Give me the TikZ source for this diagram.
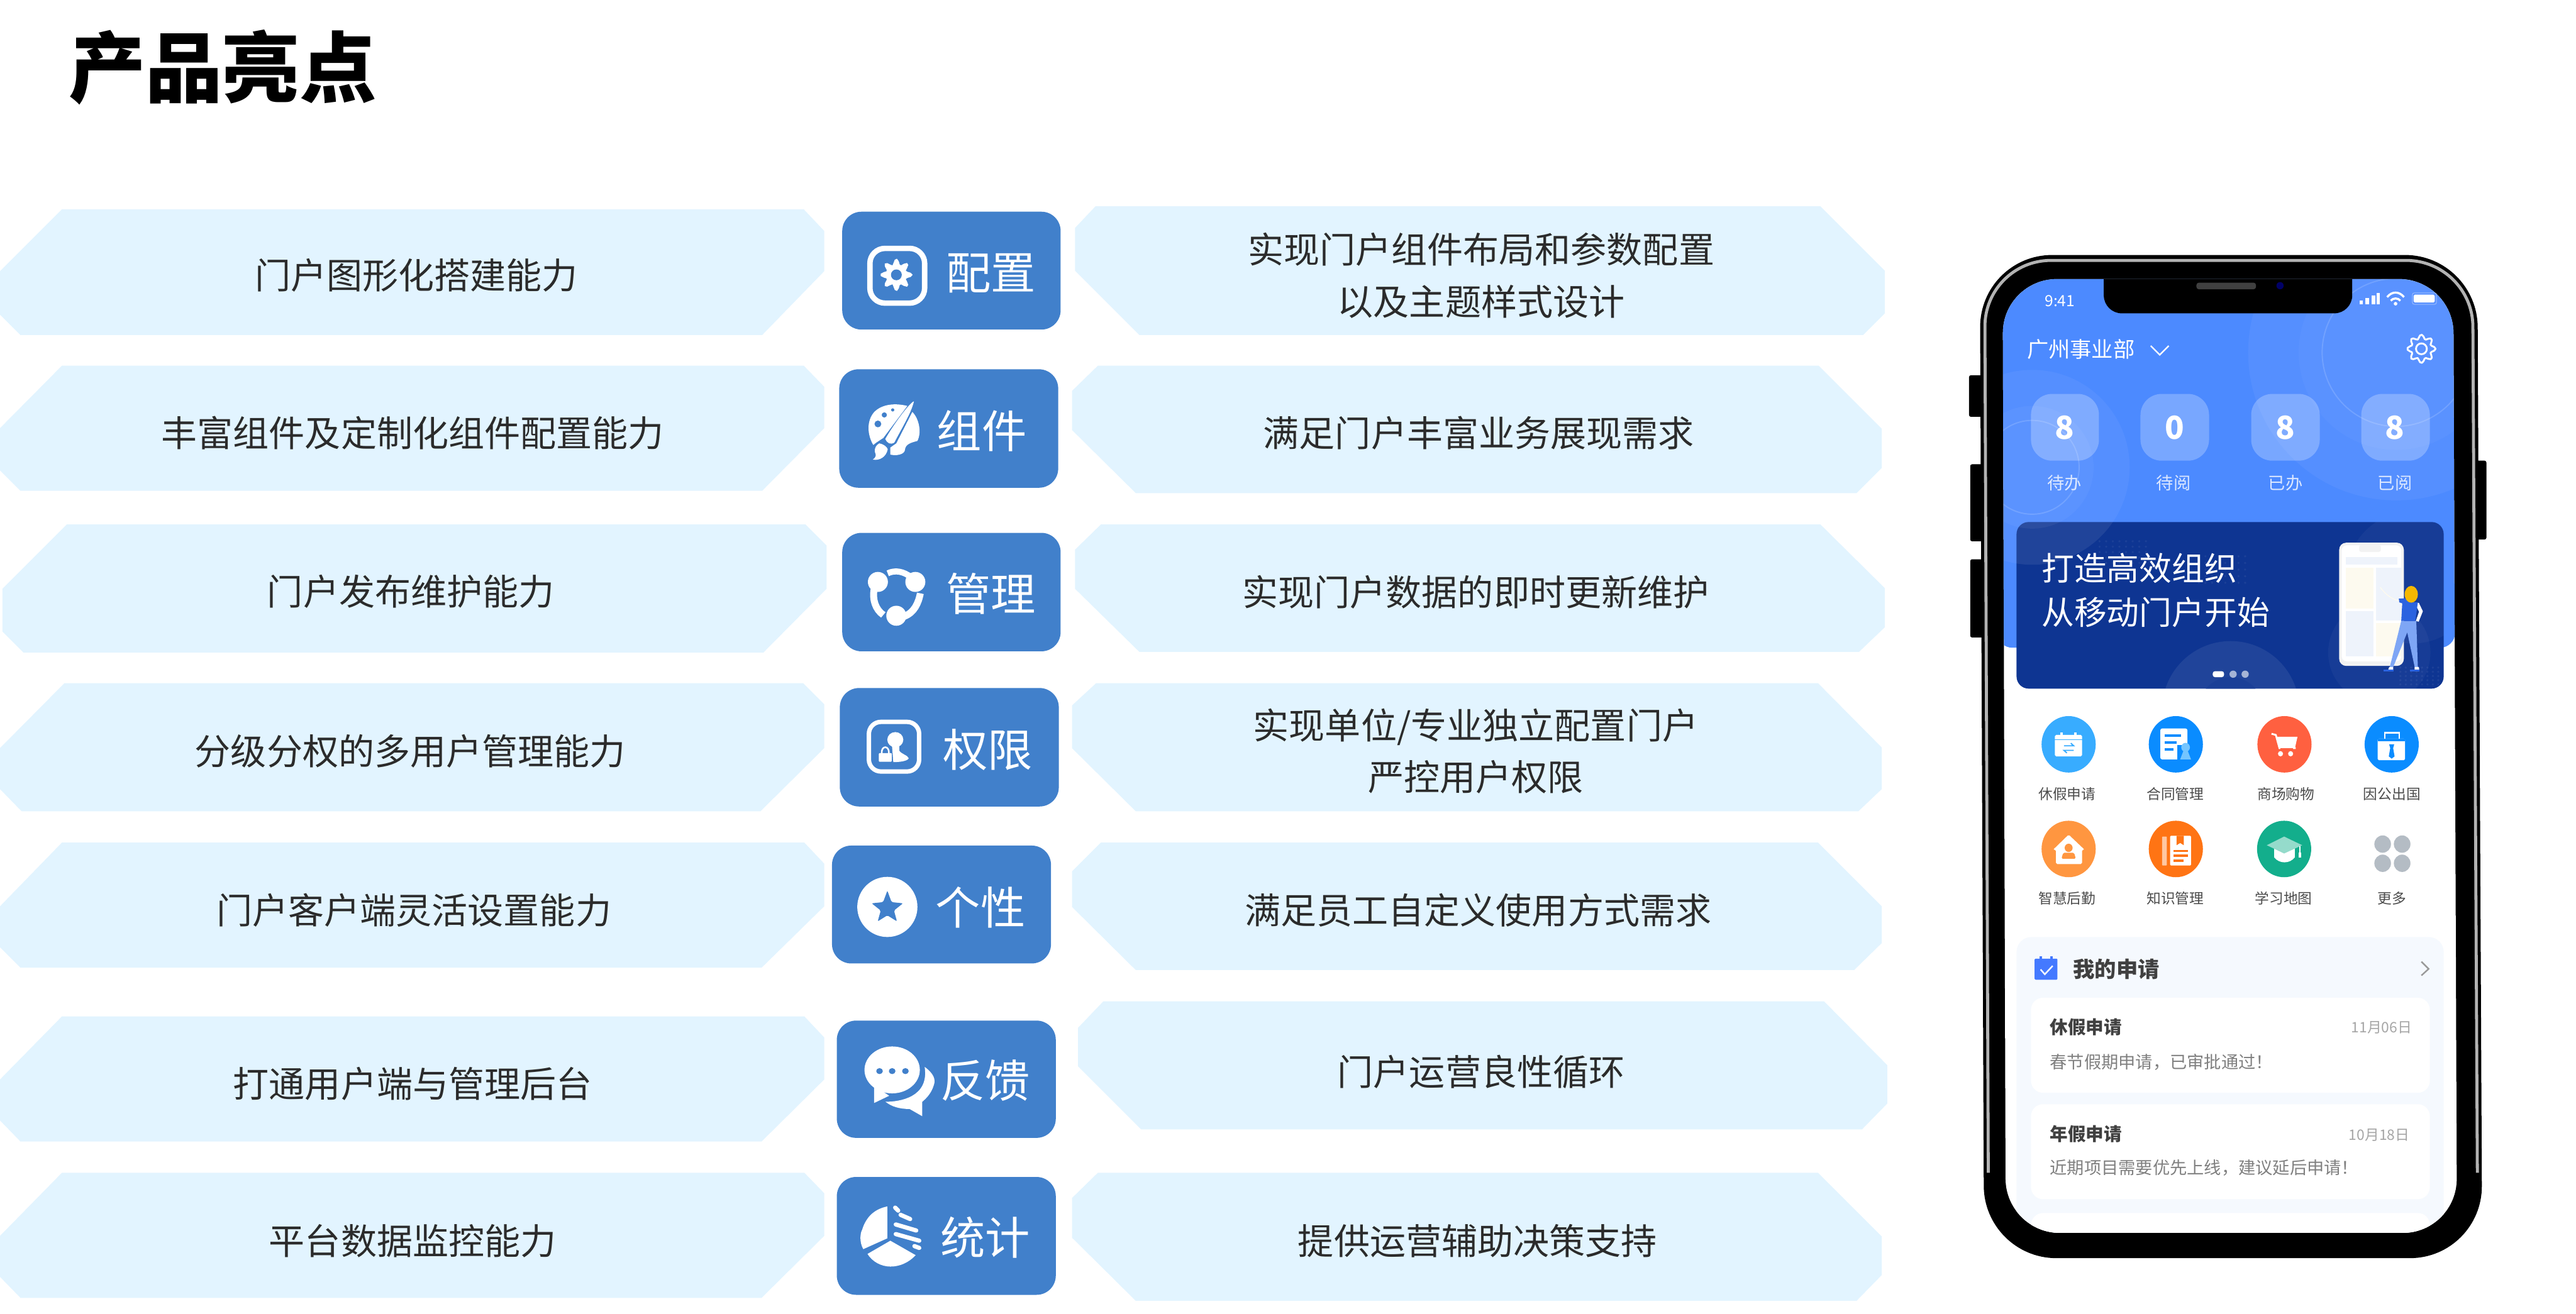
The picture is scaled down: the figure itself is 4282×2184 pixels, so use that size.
\documentclass[tikz,border=0pt]{standalone}
\usepackage{fontspec}
\setmainfont{Noto Sans CJK SC}
\definecolor{panelfill}{HTML}{E2F4FF}
\definecolor{btnblue}{HTML}{4180CB}
\definecolor{txtdark}{HTML}{2B2B2B}
\definecolor{headblue}{HTML}{4C8AFF}
\definecolor{bannerblue}{HTML}{0E3592}
\definecolor{cardbg}{HTML}{F5F9FE}
\definecolor{iconA}{HTML}{38ACFF}
\definecolor{iconB}{HTML}{0A8CFF}
\definecolor{iconC}{HTML}{FF6040}
\definecolor{iconD}{HTML}{FF9640}
\definecolor{iconE}{HTML}{FF7414}
\definecolor{iconF}{HTML}{13AE8C}
\definecolor{dotgray}{HTML}{B4BCC4}
\definecolor{softblue}{HTML}{EEF3FB}
\definecolor{softcream}{HTML}{FDFAEF}
\definecolor{hair}{HTML}{F5B800}
\definecolor{shirt}{HTML}{2B63E0}
\definecolor{jeans}{HTML}{7EA6F5}
\newcommand{\panelpoly}[8]{\fill[panelfill] #1 -- #2 -- #3 -- #4 -- #5 -- #6 -- #7 -- #8 -- cycle;}
\tikzset{
  paneltext/.style={font=\fontsize{16.97}{24.5}\selectfont,text=txtdark,inner sep=0pt,align=center,yshift=-.02cm},
  btntext/.style={font=\fontsize{21.2}{24}\selectfont,text=white,inner sep=0pt,yshift=-.02cm},
  btnshape/.style={fill=btnblue,rounded corners=.32cm},
  stat/.style={font=\bfseries\fontsize{15}{18}\selectfont,text=white,inner sep=0pt},
  statlabel/.style={font=\fontsize{8.1}{10}\selectfont,text=white,opacity=.8,inner sep=0pt},
  tile/.style={fill=white,fill opacity=.25,rounded corners=.35cm},
  appicon/.style={font=\fontsize{6.75}{8}\selectfont,text=black!70,inner sep=0pt},
  bannertext/.style={font=\fontsize{15.4}{18}\selectfont,text=white,inner sep=0pt,anchor=west},
  cardhead/.style={font=\bfseries\fontsize{8.5}{10}\selectfont,text=black!75,inner sep=0pt,anchor=west},
  carddate/.style={font=\fontsize{6.8}{8}\selectfont,text=black!35,inner sep=0pt,anchor=east},
  cardbody/.style={font=\fontsize{8.1}{10}\selectfont,text=black!50,inner sep=0pt,anchor=west},
  innercard/.style={fill=white,rounded corners=.2cm},
  zthree/.style={shift={(3240,1150)},x=.005995cm,y=-.00625cm},
}
\begin{document}
\begin{tikzpicture}[x=.01cm,y=-.01cm]
\useasboundingbox (0,0) rectangle (4282,2184);
\fill[white] (0,0) rectangle (4282,2184);
\node[inner sep=0pt,font=\bfseries\fontsize{36.4}{40}\selectfont,text=black] (title) at (370,112) {产品亮点};

% left panels
\panelpoly{(103,348)}{(1336,348)}{(1370,384)}{(1370,451)}{(1267,557)}{(34,557)}{(0,523)}{(0,451)}
\panelpoly{(103,608)}{(1336,608)}{(1370,643)}{(1370,712)}{(1267,816)}{(34,816)}{(0,782)}{(0,712)}
\panelpoly{(111,872)}{(1339,872)}{(1374,907)}{(1374,979)}{(1269,1085)}{(39,1085)}{(4,1050)}{(4,979)}
\panelpoly{(107,1136)}{(1335,1136)}{(1370,1171)}{(1370,1244)}{(1264,1349)}{(36,1349)}{(0,1312)}{(0,1244)}
\panelpoly{(103,1401)}{(1337,1401)}{(1370,1436)}{(1370,1507)}{(1266,1609)}{(34,1609)}{(0,1575)}{(0,1507)}
\panelpoly{(103,1690)}{(1337,1690)}{(1370,1725)}{(1370,1795)}{(1266,1898)}{(34,1898)}{(0,1863)}{(0,1795)}
\panelpoly{(103,1950)}{(1337,1950)}{(1370,1984)}{(1370,2055)}{(1266,2158)}{(34,2158)}{(0,2123)}{(0,2055)}
% right panels
\panelpoly{(1821,343)}{(3026,343)}{(3133,450)}{(3133,521)}{(3097,557)}{(1894,557)}{(1787,450)}{(1787,379)}
\panelpoly{(1825,608)}{(3023,608)}{(3128,713)}{(3128,778)}{(3086,820)}{(1888,820)}{(1782,715)}{(1782,650)}
\panelpoly{(1830,872)}{(3026,872)}{(3133,978)}{(3133,1043)}{(3090,1084)}{(1894,1084)}{(1787,979)}{(1787,914)}
\panelpoly{(1822,1136)}{(3022,1136)}{(3128,1243)}{(3128,1312)}{(3089,1349)}{(1888,1349)}{(1782,1244)}{(1782,1173)}
\panelpoly{(1830,1401)}{(3022,1401)}{(3128,1507)}{(3128,1568)}{(3082,1613)}{(1888,1613)}{(1782,1508)}{(1782,1449)}
\panelpoly{(1834,1665)}{(3032,1665)}{(3137,1771)}{(3137,1835)}{(3095,1878)}{(1897,1878)}{(1792,1773)}{(1792,1709)}
\panelpoly{(1825,1950)}{(3022,1950)}{(3128,2056)}{(3128,2120)}{(3086,2163)}{(1888,2163)}{(1782,2058)}{(1782,1992)}

% left texts
\node[paneltext] (l1) at (692,456) {门户图形化搭建能力};
\node[paneltext] (l2) at (686,718) {丰富组件及定制化组件配置能力};
\node[paneltext] (l3) at (683,982) {门户发布维护能力};
\node[paneltext] (l4) at (682,1247) {分级分权的多用户管理能力};
\node[paneltext] (l5) at (688,1511) {门户客户端灵活设置能力};
\node[paneltext] (l6) at (686,1800) {打通用户端与管理后台};
\node[paneltext] (l7) at (686,2061) {平台数据监控能力};
% right texts
\node[paneltext] (r1) at (2462,456) {实现门户组件布局和参数配置\\以及主题样式设计};
\node[paneltext] (r2) at (2458,718) {满足门户丰富业务展现需求};
\node[paneltext] (r3) at (2453,982) {实现门户数据的即时更新维护};
\node[paneltext] (r4) at (2453,1247) {实现单位/专业独立配置门户\\严控用户权限};
\node[paneltext] (r5) at (2457,1511) {满足员工自定义使用方式需求};
\node[paneltext] (r6) at (2462,1780) {门户运营良性循环};
\node[paneltext] (r7) at (2456,2061) {提供运营辅助决策支持};

% buttons
\fill[btnshape] (1400,352) rectangle (1763,548);
\fill[btnshape] (1395,614) rectangle (1759,811);
\fill[btnshape] (1400,886) rectangle (1763,1083);
\fill[btnshape] (1396,1144) rectangle (1760,1341);
\fill[btnshape] (1383,1406) rectangle (1747,1602);
\fill[btnshape] (1391,1697) rectangle (1755,1892);
\fill[btnshape] (1391,1957) rectangle (1755,2153);
\node[btntext] (b1) at (1647,452) {配置};
\node[btntext] (b2) at (1632,714) {组件};
\node[btntext] (b3) at (1647,985) {管理};
\node[btntext] (b4) at (1642,1245) {权限};
\node[btntext] (b5) at (1630,1507) {个性};
\node[btntext] (b6) at (1638,1795) {反馈};
\node[btntext] (b7) at (1638,2056) {统计};

% icon: settings
\draw[white,line width=.09cm,rounded corners=.25cm] (1446,413) rectangle (1537,504);
\fill[white] plot[domain=0:352,samples=45] ({1490+(22+5*cos(8*\x))*cos(\x)},{457+(22+5*cos(8*\x))*sin(\x)}) -- cycle;
\fill[btnblue] (1490,457) circle[radius=9];

% icon: palette
\begin{scope}[shift={(1425,650)},x=.003333cm,y=-.003333cm]
\fill[white] (80,270) .. controls (50,220) and (45,150) .. (85,105) .. controls (125,65) and (190,60) .. (250,75) -- (130,235) -- (95,258) -- cycle;
\fill[white] (275,105) .. controls (310,140) and (322,210) .. (300,250) .. controls (270,258) and (240,265) .. (238,295) .. controls (235,320) and (190,325) .. (165,318) -- (165,283) -- (195,262) -- cycle;
\fill[white] (283,52) .. controls (260,60) and (180,170) .. (140,240) .. controls (150,262) and (165,270) .. (185,258) .. controls (220,190) and (270,110) .. (283,52) -- cycle;
\fill[white] (110,262) .. controls (130,265) and (150,280) .. (152,292) .. controls (145,330) and (110,350) .. (78,343) .. controls (95,330) and (95,322) .. (88,305) .. controls (85,285) and (95,270) .. (110,262) -- cycle;
\fill[btnblue] (103,165) circle[radius=17];
\fill[btnblue] (135,120) circle[radius=13];
\fill[btnblue] (177,95) circle[radius=8];
\end{scope}

% icon: manage
\begin{scope}[shift={(1425,930)},x=.003333cm,y=-.003333cm]
\fill[white] (103,113) circle[radius=50];
\fill[white] (290,113) circle[radius=50];
\fill[white] (195,282) circle[radius=50];
\draw[white,line width=.1cm] (152,70) .. controls (190,52) and (230,60) .. (270,90);
\draw[white,line width=.115cm] (84,150) .. controls (75,200) and (90,250) .. (130,278);
\draw[white,line width=.115cm] (315,170) .. controls (305,220) and (285,265) .. (235,285);
\end{scope}

% icon: permission
\begin{scope}[shift={(1420,1180)},x=.003333cm,y=-.003333cm]
\draw[white,line width=.073cm,rounded corners=.2cm] (73,61) rectangle (324,309);
\fill[white] (205,150) ellipse[x radius=40,y radius=38];
\fill[white] (188,175) -- (195,262) .. controls (225,262) and (265,258) .. (272,243) .. controls (268,228) and (235,222) .. (225,205) -- (225,175) -- cycle;
\fill[white,rounded corners=.01cm] (123,217) rectangle (187,260);
\draw[white,line width=.027cm] (137,217) .. controls (135,178) and (175,178) .. (173,217);
\end{scope}

% icon: personal
\fill[white] (1475,1508) circle[radius=50];
\fill[btnblue,rounded corners=.02cm] (1475,1481) -- (1482,1500) -- (1501,1502) -- (1486,1514) -- (1491,1532) -- (1475,1522) -- (1459,1532) -- (1464,1514) -- (1449,1502) -- (1468,1500) -- cycle;

% icon: feedback
\fill[white] (1537,1774) .. controls (1552,1785) and (1556,1795) .. (1552,1805) .. controls (1548,1818) and (1540,1826) .. (1533,1832) -- (1533,1856) -- (1512,1844) .. controls (1495,1844) and (1482,1840) .. (1472,1832) .. controls (1495,1832) and (1545,1825) .. (1537,1774) -- cycle;
\fill[white] (1483,1779) ellipse[x radius=46,y radius=39];
\fill[white] (1453,1805) -- (1453,1834) -- (1478,1822) -- cycle;
\fill[btnblue] (1462,1781) ellipse[x radius=5.5,y radius=5];
\fill[btnblue] (1483,1781) ellipse[x radius=5.5,y radius=5];
\fill[btnblue] (1505,1781) ellipse[x radius=5.5,y radius=5];

% icon: statistics
\fill[white] (1475,2006) -- (1475,2059) -- (1435,2077) .. controls (1428,2065) and (1430,2050) .. (1433,2045) .. controls (1440,2022) and (1455,2010) .. (1475,2006) -- cycle;
\fill[white] (1442,2085) -- (1480,2063) -- (1522,2087) .. controls (1510,2100) and (1495,2106) .. (1480,2106) .. controls (1465,2106) and (1450,2098) .. (1442,2085) -- cycle;
\draw[white,line width=.07cm,line cap=round] (1488,2008) -- (1493,2013);
\draw[white,line width=.07cm,line cap=round] (1497,2020) -- (1513,2027);
\draw[white,line width=.07cm,line cap=round] (1489,2036) -- (1523,2046);
\draw[white,line width=.07cm,line cap=round] (1489,2052) -- (1528,2063);
\draw[white,line width=.07cm,line cap=round] (1520,2072) -- (1528,2075);

% phone side buttons
\fill[black,rounded corners=.03cm] (3273,624) rectangle (3300,693);
\fill[black,rounded corners=.03cm] (3275,772) rectangle (3300,900);
\fill[black,rounded corners=.03cm] (3275,930) rectangle (3300,1060);
\fill[black,rounded corners=.03cm] (4110,766) rectangle (4133,897);
% phone body
\fill[black,rounded corners=1.2cm] (3291,424) -- (4118,424) -- (4126,2092) -- (3298,2092) -- cycle;
\draw[white,opacity=.7,line width=.05cm,rounded corners=1.1cm] (3305,1950) -- (3299,433) -- (4110,433) -- (4118,1950);
% screen
\fill[white,rounded corners=.9cm] (3329,464) -- (4078,464) -- (4084,2050) -- (3334,2050) -- cycle;
\begin{scope}
\clip[rounded corners=.9cm] (3329,464) -- (4078,464) -- (4084,2050) -- (3334,2050) -- cycle;
\fill[headblue,rounded corners=.25cm] (3320,440) rectangle (4081,1077);
\begin{scope}
\clip (3320,440) rectangle (4090,1060);
\fill[white,opacity=.05] (3983,586) circle[radius=246];
\fill[white,opacity=.03] (3983,586) circle[radius=162];
\draw[white,opacity=.15,line width=.02cm] (3983,586) circle[radius=123];
\fill[white,opacity=.05] (3378,777) circle[radius=162];
\fill[white,opacity=.04] (3378,777) circle[radius=102];
\draw[white,opacity=.15,line width=.02cm] (3378,777) circle[radius=78];
\end{scope}
% lower card
\fill[cardbg,rounded corners=.25cm] (3352,1558) rectangle (4062,2090);
\fill[innercard] (3376,1659) rectangle (4039,1817);
\fill[innercard] (3376,1836) rectangle (4039,1994);
\fill[innercard] (3376,2017) rectangle (4039,2120);
% notch
\fill[black] (3497,440) [rounded corners=.3cm] -- (3497,521) -- (3910,521) [sharp corners] -- (3910,440) -- cycle;
\end{scope}
\fill[black!75,rounded corners=.04cm] (3651,470) rectangle (3750,481);
\fill[black!60!blue] (3790,475) circle[radius=6];
% status bar
\node[inner sep=0pt,font=\fontsize{7.3}{9}\selectfont,text=white] (clock) at (3424,500) {9:41};
\fill[white] (3922,500) rectangle (3928,506);
\fill[white] (3932,496) rectangle (3938,506);
\fill[white] (3942,491) rectangle (3948,506);
\fill[white] (3951,487) rectangle (3956,506);
\draw[white,line width=.035cm] (3968,494) .. controls (3976,484) and (3988,484) .. (3996,494);
\draw[white,line width=.035cm] (3974,500) .. controls (3978,495) and (3986,495) .. (3990,500);
\fill[white] (3982,505) circle[radius=3];
\fill[white,rounded corners=.02cm] (4012,490) rectangle (4047,503);
\draw[white,opacity=.4,line width=.01cm,rounded corners=.03cm] (4010,487) rectangle (4050,506);
% header
\node[inner sep=0pt,font=\fontsize{10.2}{12}\selectfont,text=white] (org) at (3459,581) {广州事业部};
\draw[white,line width=.025cm] (3575,575) -- (3590,590) -- (3605,575);
\draw[white,line width=.03cm,line join=round] plot[domain=0:352,samples=45] ({4025+(20+3.5*cos(8*\x))*cos(\x)},{580+(20+3.5*cos(8*\x))*sin(\x)}) -- cycle;
\draw[white,line width=.03cm] (4025,580) circle[radius=9];
% stat tiles
\fill[tile] (3376,655) rectangle (3489,766);
\fill[tile] (3558,655) rectangle (3672,766);
\fill[tile] (3742,655) rectangle (3856,766);
\fill[tile] (3925,655) rectangle (4039,766);
\node[stat] (s1) at (3432,711) {8};
\node[stat] (s2) at (3615,711) {0};
\node[stat] (s3) at (3799,711) {8};
\node[stat] (s4) at (3981,711) {8};
\node[statlabel] (sl1) at (3432,803) {待办};
\node[statlabel] (sl2) at (3613,803) {待阅};
\node[statlabel] (sl3) at (3799,803) {已办};
\node[statlabel] (sl4) at (3981,803) {已阅};
% banner
\fill[bannerblue,rounded corners=.2cm] (3352,868) rectangle (4062,1145);
\begin{scope}
\clip[rounded corners=.2cm] (3352,868) rectangle (4062,1145);
\fill[white,opacity=.08] (3378,777) circle[radius=162];
\fill[white,opacity=.05] (3378,777) circle[radius=102];
\fill[white,opacity=.08] (3708,1180) circle[radius=114];
\fill[bannerblue] (3708,1180) circle[radius=54];
\fill[white,opacity=.05] (3708,1180) circle[radius=54];
\fill[white,opacity=.04] (4010,960) circle[radius=110];
\fill[white,opacity=.04] (3955,1085) circle[radius=85];
\foreach \i in {0,...,7} \foreach \j in {0,...,4} {
  \fill[white,opacity=.06] ({3382+\i*11},{1208+\j*11}) circle[radius=2];
  \fill[white,opacity=.06] ({3490+\i*11},{900+\j*9}) circle[radius=2];
  \fill[white,opacity=.06] ({3655+\i*11},{925+\j*11}) circle[radius=2];
  \fill[white,opacity=.06] ({3990+\i*9},{1110+\j*7}) circle[radius=2];
}
\end{scope}
\node[bannertext] (bt1) at (3393,945) {打造高效组织};
\node[bannertext] (bt2) at (3393,1018) {从移动门户开始};
\fill[white,rounded corners=.04cm] (3678,1116) rectangle (3697,1126);
\fill[white,opacity=.6] (3712,1121) circle[radius=6];
\fill[white,opacity=.6] (3732,1121) circle[radius=6];
% banner illustration
\begin{scope}[shift={(3860,880)},x=.003333cm,y=-.003333cm]
\fill[black!5,rounded corners=.117cm] (85,67) rectangle (408,683);
\fill[white,rounded corners=.09cm] (97,80) rectangle (396,660);
\fill[black!5,rounded corners=.03cm] (185,80) rectangle (293,113);
\fill[softblue] (117,138) rectangle (375,178);
\fill[softcream] (117,192) rectangle (255,398);
\fill[softblue] (268,192) rectangle (396,455);
\fill[softblue] (117,410) rectangle (255,635);
\fill[softcream] (268,470) rectangle (396,635);
\draw[softcream,line width=.015cm] (290,290) .. controls (320,330) and (350,350) .. (385,358);
\fill[white] (470,368) -- (483,368) -- (503,410) -- (482,462) -- (468,458) -- (484,412) -- (470,384) -- cycle;
\fill[jeans] (395,458) -- (470,458) -- (478,688) -- (462,688) -- (425,515) -- (355,688) -- (338,688) -- cycle;
\fill[shirt] (383,347) -- (415,345) -- (440,365) -- (478,365) -- (465,458) -- (395,458) -- (400,370) -- (385,365) -- cycle;
\fill[white] (335,688) -- (355,688) -- (355,702) -- (330,702) -- cycle;
\fill[white] (462,688) -- (483,688) -- (485,702) -- (462,702) -- cycle;
\fill[shirt] (308,702) -- (358,702) -- (358,709) -- (308,709) -- cycle;
\fill[shirt] (438,702) -- (487,702) -- (487,709) -- (438,709) -- cycle;
\fill[hair] (445,325) ellipse[x radius=33,y radius=42];
\end{scope}

% app icons
\begin{scope}[zthree]
\fill[iconA] (331,140) circle[radius=75];
\fill[iconB] (628,140) circle[radius=75];
\fill[iconC] (929,140) circle[radius=75];
\fill[iconB] (1226,140) circle[radius=75];
\fill[iconD] (331,418) circle[radius=75];
\fill[iconE] (628,418) circle[radius=75];
\fill[iconF] (928,418) circle[radius=75];
% calendar
\fill[white,rounded corners=.02cm] (293,115) rectangle (368,172);
\fill[iconA] (293,126) rectangle (368,129);
\fill[white] (308,108) rectangle (314,120);
\fill[white] (347,108) rectangle (353,120);
\draw[iconA,line width=.02cm] (318,144) -- (345,144) -- (337,137);
\draw[iconA,line width=.02cm] (345,156) -- (318,156) -- (326,163);
% document
\fill[white,rounded corners=.03cm] (585,98) rectangle (660,180);
\fill[iconB] (597,113) rectangle (643,120);
\fill[iconB] (597,132) rectangle (630,139);
\fill[iconB] (597,150) rectangle (622,157);
\fill[iconB] (632,142) rectangle (680,185);
\fill[iconA!70] (655,148) circle[radius=12];
\fill[iconA!70] (640,180) -- (670,180) -- (660,155) -- (650,155) -- cycle;
% cart
\draw[white,line width=.03cm] (893,112) -- (905,115) -- (915,150) -- (960,150);
\fill[white] (905,120) -- (965,120) -- (958,150) -- (915,150) -- cycle;
\fill[iconC] (918,150) rectangle (952,154);
\fill[white] (918,165) circle[radius=7];
\fill[white] (946,165) circle[radius=7];
% briefcase
\draw[white,line width=.03cm] (1207,127) -- (1207,110) -- (1247,110) -- (1247,127);
\fill[white,rounded corners=.02cm] (1187,125) rectangle (1263,182);
\fill[iconB] (1187,125) rectangle (1263,132);
\fill[iconB] (1219,140) -- (1233,140) -- (1230,150) -- (1234,172) -- (1226,178) -- (1218,172) -- (1222,150) -- cycle;
% house
\fill[white,rounded corners=.02cm] (288,420) -- (331,380) -- (375,420) -- (368,420) -- (368,458) -- (296,458) -- (296,420) -- cycle;
\fill[iconD] (331,415) circle[radius=11];
\fill[iconD,rounded corners=.02cm] (311,444) -- (316,428) -- (346,428) -- (351,444) -- cycle;
% notebook
\fill[white,opacity=.6,rounded corners=.01cm] (590,385) rectangle (603,462);
\fill[white,rounded corners=.015cm] (612,383) rectangle (670,462);
\fill[iconE] (630,383) -- (630,408) -- (640,402) -- (650,408) -- (650,383) -- cycle;
\fill[iconE] (622,420) rectangle (662,426);
\fill[iconE] (622,433) rectangle (662,439);
\fill[iconE] (622,446) rectangle (650,452);
% cap
\fill[white] (900,412) rectangle (958,440);
\fill[white] (900,440) .. controls (915,458) and (943,458) .. (958,440) -- cycle;
\fill[iconF!45!white] (880,408) -- (928,385) -- (978,408) -- (928,430) -- cycle;
\draw[white,line width=.02cm] (972,410) -- (972,430);
\fill[white] (969,428) rectangle (976,440);
% more
\fill[dotgray] (1201,405) circle[radius=23];
\fill[dotgray] (1255,405) circle[radius=23];
\fill[dotgray] (1201,456) circle[radius=23];
\fill[dotgray] (1255,456) circle[radius=23];
\end{scope}
\node[appicon] (a1) at (3436,1320) {休假申请};
\node[appicon] (a2) at (3616,1320) {合同管理};
\node[appicon] (a3) at (3800,1320) {商场购物};
\node[appicon] (a4) at (3976,1320) {因公出国};
\node[appicon] (a5) at (3436,1494) {智慧后勤};
\node[appicon] (a6) at (3616,1494) {知识管理};
\node[appicon] (a7) at (3796,1494) {学习地图};
\node[appicon] (a8) at (3976,1494) {更多};
% card header
\fill[iconB!55!blue!75!white,rounded corners=.015cm] (3382,1594) rectangle (3420,1629);
\fill[iconB!55!blue!75!white] (3390,1590) rectangle (3394,1597);
\fill[iconB!55!blue!75!white] (3408,1590) rectangle (3412,1597);
\draw[white,line width=.025cm] (3392,1612) -- (3399,1620) -- (3412,1606);
\node[inner sep=0pt,font=\bfseries\fontsize{10.2}{12}\selectfont,text=black!75] (cardt) at (3518,1611) {我的申请};
\draw[black!40,line width=.025cm] (4025,1599) -- (4037,1611) -- (4025,1622);
% card items
\node[cardhead] (c1) at (3407,1708) {休假申请};
\node[carddate] (d1) at (4010,1709) {11月06日};
\node[cardbody] (t1) at (3407,1766) {春节假期申请，已审批通过！};
\node[cardhead] (c2) at (3407,1886) {年假申请};
\node[carddate] (d2) at (4006,1887) {10月18日};
\node[cardbody] (t2) at (3407,1942) {近期项目需要优先上线，建议延后申请！};
\end{tikzpicture}
\end{document}
